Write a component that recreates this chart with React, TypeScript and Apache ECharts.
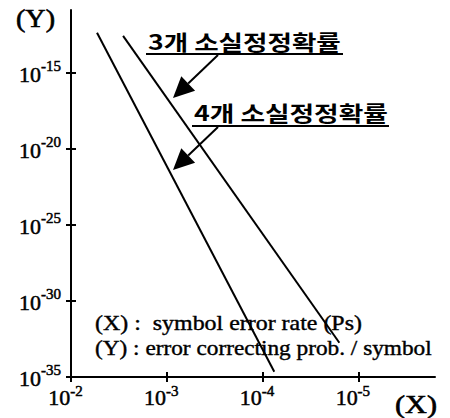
import React, { useEffect, useRef } from 'react';
import * as echarts from 'echarts';

// Error-correcting probability per symbol vs. symbol error rate Ps (log-log),
// each case drawn as a straight line between its two end points.
const erasure3Ps = [2.86e-3, 1.58e-5];
const erasure3Prob = [2.8e-13, 1.8e-33];
const erasure4Ps = [5.35e-3, 7.55e-5];
const erasure4Prob = [4.5e-13, 2.2e-35];

const xTickValues = [1e-2, 1e-3, 1e-4, 1e-5];
const yTickValues = [1e-35, 1e-30, 1e-25, 1e-20, 1e-15];

const curveLabels = ['3개 소실정정확률', '4개 소실정정확률'];
const noteLines = ['(X) :  symbol error rate (Ps)', '(Y) : error correcting prob. / symbol'];
const axisNames = ['(X)', '(Y)'];

const SERIF = '"Liberation Serif", "Times New Roman", serif';
const KOREAN = '"Noto Sans CJK KR", sans-serif';

const toPairs = (xs: number[], ys: number[]) => xs.map((x, i) => [x, ys[i]]);
const powLabel = (v: number) => `{b|10}{e|${Math.round(Math.log10(v))}}`;

function textWidth(text: string, font: string): number {
  const ctx = document.createElement('canvas').getContext('2d');
  if (!ctx) return 0;
  ctx.font = font;
  return ctx.measureText(text).width;
}

// text stretched horizontally to span a given width
function fittedText(text: string, x: number, y: number, width: number, family: string, size: number, weight = 'normal', stroke = 0) {
  const font = `${weight} ${size}px ${family}`;
  const w = textWidth(text, font);
  return {
    type: 'text',
    x,
    y,
    scaleX: w > 0 ? width / w : 1,
    silent: true,
    style: {
      text,
      font,
      fill: '#000',
      stroke: stroke > 0 ? '#000' : undefined,
      lineWidth: stroke,
      textAlign: 'left',
      textVerticalAlign: 'middle',
      align: 'left',
      verticalAlign: 'middle',
    },
  };
}

function arrow(from: number[], tip: number[], headLen: number, headHalf: number) {
  const dx = tip[0] - from[0];
  const dy = tip[1] - from[1];
  const len = Math.hypot(dx, dy);
  const ux = dx / len;
  const uy = dy / len;
  const bx = tip[0] - ux * headLen;
  const by = tip[1] - uy * headLen;
  const nx = -uy;
  const ny = ux;
  return [
    {
      type: 'line',
      silent: true,
      shape: { x1: from[0], y1: from[1], x2: bx, y2: by },
      style: { stroke: '#000', lineWidth: 2 },
    },
    {
      type: 'polygon',
      silent: true,
      shape: {
        points: [
          [tip[0], tip[1]],
          [bx + nx * headHalf, by + ny * headHalf],
          [bx - nx * headHalf, by - ny * headHalf],
        ],
      },
      style: { fill: '#000' },
    },
  ];
}

function underline(x1: number, x2: number, y: number) {
  return {
    type: 'line',
    silent: true,
    shape: { x1, y1: y, x2, y2: y },
    style: { stroke: '#000', lineWidth: 2 },
  };
}

export default function App() {
  const ref = useRef<HTMLDivElement>(null);

  useEffect(() => {
    if (!ref.current) return;
    const chart = echarts.init(ref.current, null, { renderer: 'svg' });

    const tickLine = { color: '#000', width: 2 };
    const labelInk = { textBorderColor: '#000', textBorderWidth: 0.5, color: '#000', fontFamily: SERIF };
    const xBase = {
      type: 'log',
      logBase: 10,
      inverse: true,
      min: Math.pow(10, -5.8),
      max: 1e-2,
      position: 'bottom',
      splitLine: { show: false },
      minorTick: { show: false },
    };
    const yBase = {
      type: 'log',
      logBase: 10,
      min: 1e-35,
      max: Math.pow(10, -10.85),
      position: 'left',
      splitLine: { show: false },
      minorTick: { show: false },
    };

    chart.setOption({
      animation: false,
      backgroundColor: '#fff',
      grid: { left: 71, right: 15, top: 10, bottom: 41, containLabel: false, outerBoundsMode: 'none' },
      xAxis: [
        {
          ...xBase,
          axisLine: { show: true, onZero: false, lineStyle: tickLine },
          axisTick: { show: true, length: 5, lineStyle: tickLine, customValues: xTickValues },
          axisLabel: {
            customValues: xTickValues,
            margin: 6,
            padding: [0, 11, 0, 0],
            alignMinLabel: 'center',
            alignMaxLabel: 'center',
            formatter: powLabel,
            rich: {
              b: { ...labelInk, fontSize: 22, lineHeight: 28 },
              e: { ...labelInk, fontSize: 15, lineHeight: 12, verticalAlign: 'top' },
            },
          },
        },
        {
          ...xBase,
          axisLine: { show: false, onZero: false },
          axisTick: { show: true, inside: true, length: 5, lineStyle: tickLine, customValues: xTickValues },
          axisLabel: { show: false },
        },
      ],
      yAxis: [
        {
          ...yBase,
          axisLine: { show: true, onZero: false, lineStyle: tickLine },
          axisTick: { show: true, length: 5, lineStyle: tickLine, customValues: yTickValues },
          axisLabel: { show: false },
        },
        {
          ...yBase,
          axisLine: { show: false, onZero: false },
          axisTick: { show: true, inside: true, length: 5, lineStyle: tickLine, customValues: yTickValues },
          axisLabel: {
            customValues: yTickValues,
            inside: false,
            margin: 10,
            formatter: powLabel,
            padding: [3, 0, 0, 0],
            rich: {
              b: { ...labelInk, fontSize: 22, lineHeight: 32 },
              e: { ...labelInk, fontSize: 15, lineHeight: 12, verticalAlign: 'top' },
            },
          },
        },
      ],
      series: [
        {
          name: curveLabels[0],
          type: 'line',
          xAxisIndex: 0,
          yAxisIndex: 0,
          data: toPairs(erasure3Ps, erasure3Prob),
          symbol: 'none',
          lineStyle: { color: '#000', width: 2 },
        },
        {
          name: curveLabels[1],
          type: 'line',
          xAxisIndex: 0,
          yAxisIndex: 0,
          data: toPairs(erasure4Ps, erasure4Prob),
          symbol: 'none',
          lineStyle: { color: '#000', width: 2 },
        },
      ],
      graphic: [
        fittedText(axisNames[1], 16, 19, 39, SERIF, 25, 'normal', 0.6),
        fittedText(axisNames[0], 395, 404, 42, SERIF, 25, 'normal', 0.6),
        fittedText(curveLabels[0], 148, 41, 193, KOREAN, 21, 'bold'),
        underline(146, 343, 54),
        fittedText(curveLabels[1], 194, 112, 194, KOREAN, 21, 'bold'),
        underline(192, 389, 126),
        ...arrow([218, 55], [173, 98], 21, 10),
        ...arrow([218, 127], [173, 170], 21, 10),
        fittedText(noteLines[0], 95, 323, 267, SERIF, 21, 'normal', 0.4),
        fittedText(noteLines[1], 95, 348, 337, SERIF, 21, 'normal', 0.4),
      ],
    });

    return () => chart.dispose();
  }, []);

  return (
    <div
      ref={ref}
      style={{ position: 'absolute', left: 0, top: 0, width: 450, height: 418, background: '#fff' }}
    />
  );
}
